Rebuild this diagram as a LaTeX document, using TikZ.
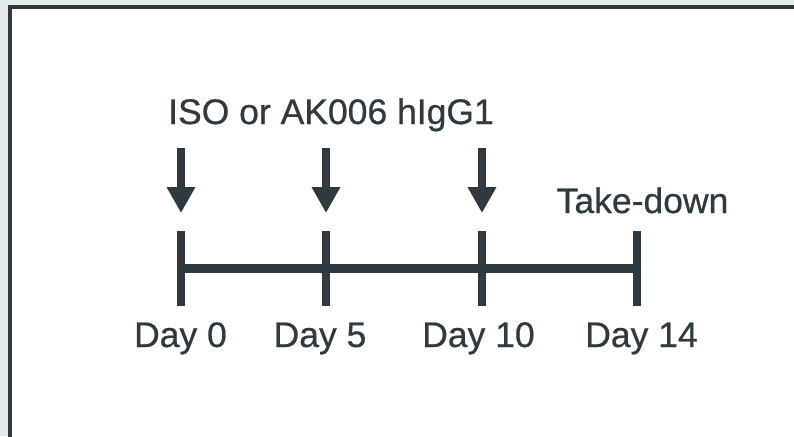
\documentclass[tikz,border=0pt]{standalone}
\usepackage{fontspec}
\setmainfont[FakeBold=0.6]{Liberation Sans}
\usetikzlibrary{arrows.meta}
\definecolor{ink}{HTML}{2E3A40}
\definecolor{pagegrey}{HTML}{E4E9EC}
\tikzset{
  lbl/.style={inner sep=0pt, anchor=base, text=ink, font=\fontsize{35.5}{43}\selectfont},
  tick/.style={draw=ink, line width=8pt},
  axis/.style={draw=ink, line width=9pt},
  dose/.style={draw=ink, line width=8pt, -{Triangle[width=27pt,length=26pt]}},
}
\begin{document}
\begin{tikzpicture}[x=1pt,y=-1pt]
  \clip (0,0) rectangle (794,436);
  \fill[pagegrey] (0,0) rectangle (794,436);
  % framed panel, running off the right and bottom edges
  \draw[ink, line width=4pt, fill=white] (9.5,7) rectangle (810,450);

  % timeline points
  \coordinate (d0) at (181,268);
  \coordinate (d5) at (326,268);
  \coordinate (d10) at (482,268);
  \coordinate (d14) at (637,268);

  % axis and ticks
  \draw[axis] (d0) -- (d14);
  \foreach \p in {d0,d5,d10,d14}
    \draw[tick] ([yshift=-38pt]\p) -- ([yshift=37pt]\p);

  % dosing arrows
  \foreach \p in {d0,d5,d10}{
    \coordinate (\p top) at ([yshift=120pt]\p);
    \coordinate (\p tip) at ([yshift=55pt]\p);
    \draw[dose] (\p top) -- (\p tip);
  }

  % labels
  \node[lbl] (treat) at (331,124) {ISO or AK006 hIgG1};
  \node[lbl] (end) at (642.5,213) {Take-down};
  \node[lbl] (l0) at (180.5,347) {Day 0};
  \node[lbl] (l5) at (320,347) {Day 5};
  \node[lbl] (l10) at (478.5,347) {Day 10};
  \node[lbl] (l14) at (641.5,347) {Day 14};
\end{tikzpicture}
\end{document}
